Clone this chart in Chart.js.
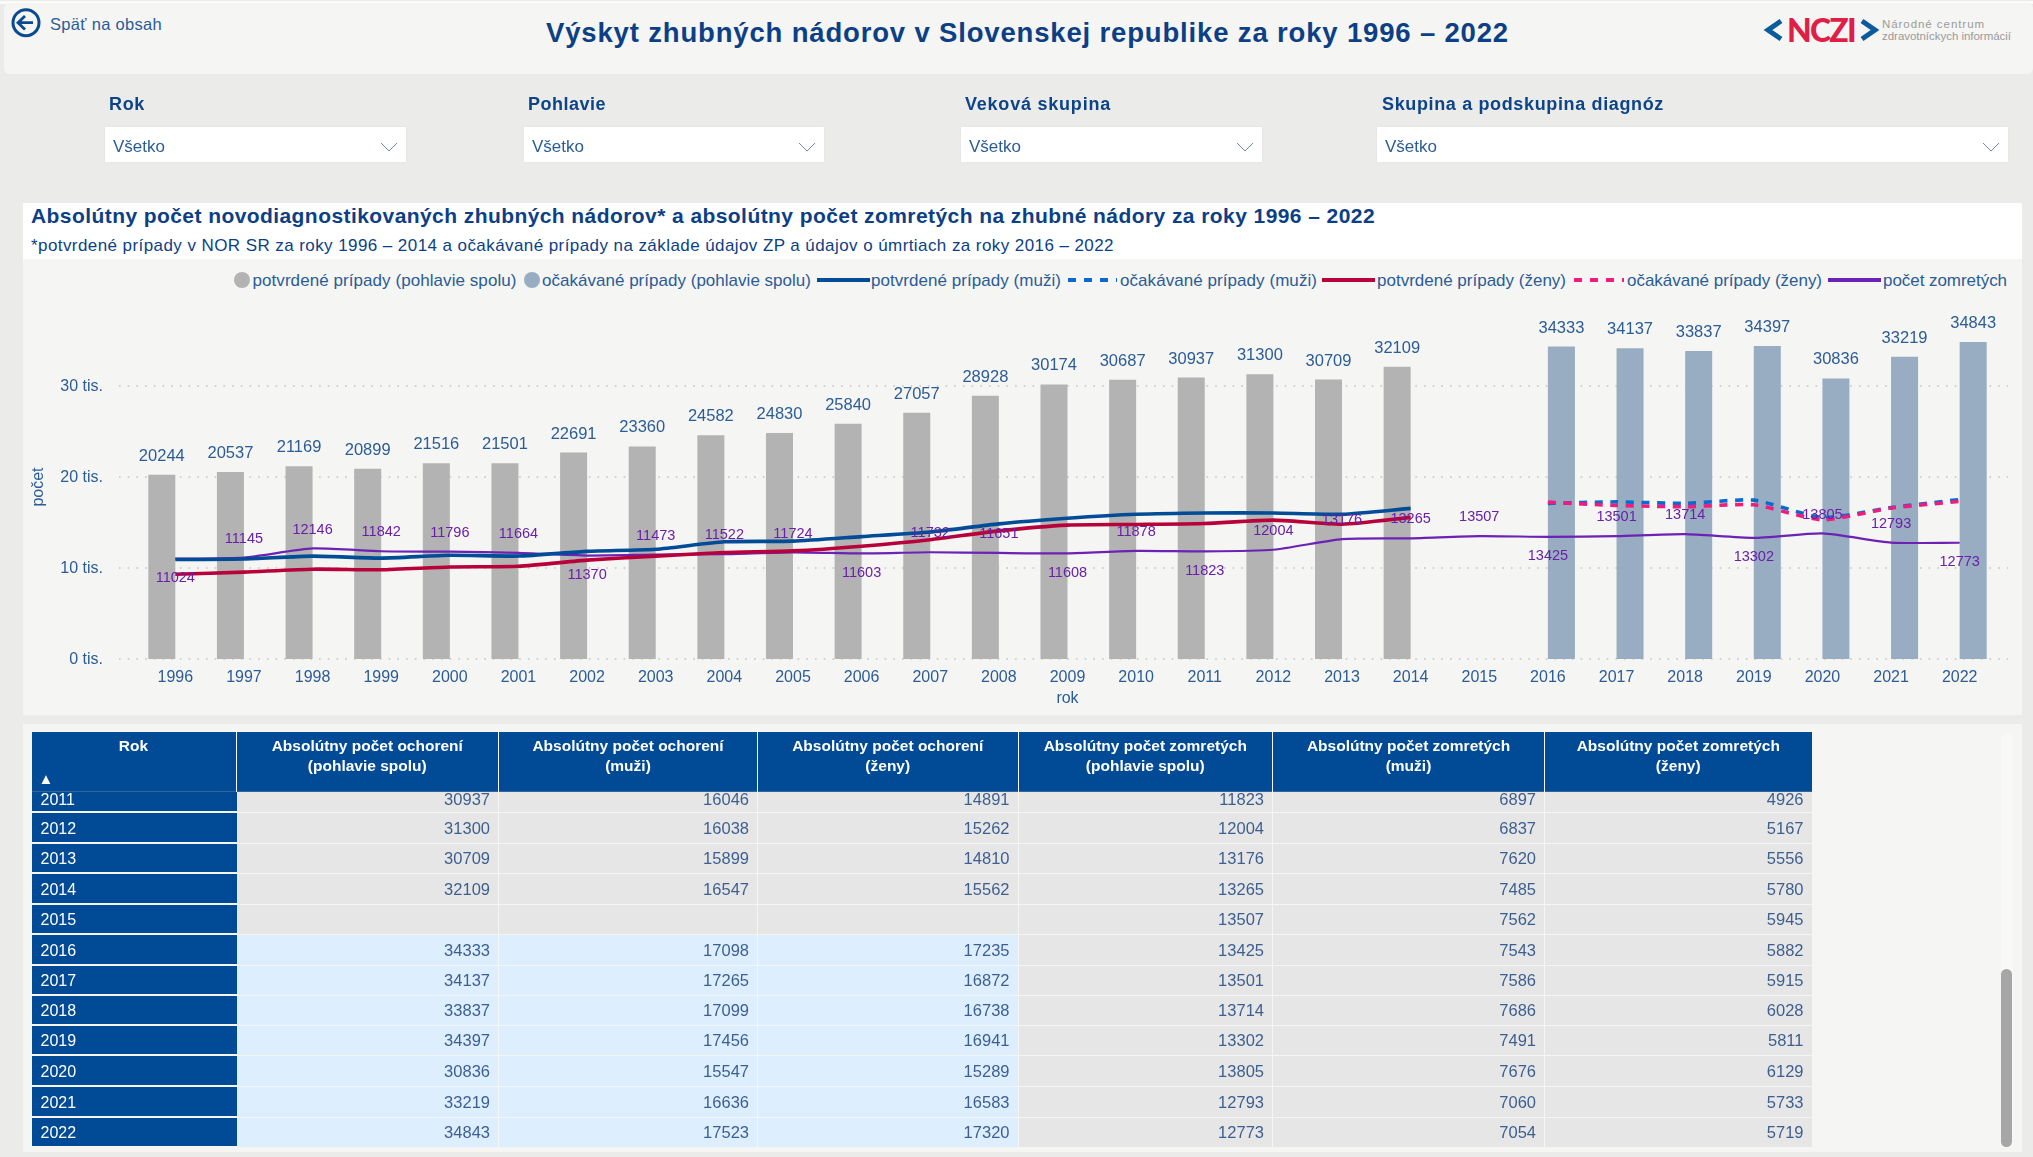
<!DOCTYPE html>
<html lang="sk">
<head>
<meta charset="utf-8">
<title>Výskyt zhubných nádorov</title>
<script src="https://cdn.jsdelivr.net/npm/chart.js@4/dist/chart.umd.min.js"></script>
<style>
html,body{margin:0;padding:0;background:#ebebe9;width:2033px;height:1157px;overflow:hidden;font-family:"Liberation Sans",Arial,sans-serif;}
#root{position:absolute;left:0;top:0;width:2033px;height:1157px;overflow:hidden;filter:blur(0.55px);}
.a{position:absolute;white-space:nowrap;}
.box{position:absolute;}
.lbl{color:#0d4488;font-weight:bold;font-size:18px;line-height:20px;}
.dd{position:absolute;background:#fff;top:127px;height:35px;box-shadow:0 0 2px #e0e0e0;}
.dd span{position:absolute;left:8px;top:9.5px;font-size:17px;line-height:20px;color:#2b5c96;}
.dd svg{position:absolute;right:8px;top:15px;}
.lg{color:#2b5c96;font-size:17px;line-height:20px;top:270.5px;}
.cell{position:absolute;overflow:hidden;box-sizing:border-box;}
.hdr{background:#004a96;color:#fff;font-weight:bold;font-size:15.5px;line-height:20.5px;text-align:center;}
</style>
</head>
<body>
<div id="root">
  <div class="box" style="left:0;top:1px;width:2033px;height:3px;background:#fbfbfa"></div>
  <div class="box" style="left:4px;top:3px;width:2029px;height:71px;background:#f5f5f3;border-radius:6px"></div>
  <svg class="box" style="left:9px;top:6px" width="34" height="34" viewBox="0 0 34 34">
    <circle cx="17" cy="16.7" r="13" fill="none" stroke="#0b4a90" stroke-width="3"/>
    <path d="M24 16.7H10M16 10l-7 6.7 7 6.7" fill="none" stroke="#0b4a90" stroke-width="2.8"/>
  </svg>
  <div class="a" data-w="112" style="left:50px;top:13.5px;font-size:16.5px;line-height:20px;color:#2b5c96">Späť na obsah</div>
  <div class="a" data-w="963" style="left:546px;top:18px;font-size:27.5px;line-height:30px;font-weight:bold;color:#0c3f85">Výskyt zhubných nádorov v Slovenskej republike za roky 1996 – 2022</div>

  <svg class="box" style="left:1760px;top:12px" width="124" height="36" viewBox="0 0 124 36">
    <path d="M21 9L8 18l13 9M102 9l13 9-13 9" fill="none" stroke="#0a5b9c" stroke-width="5"/>
  </svg>
  <div class="a" data-w="68" style="left:1787px;top:11px;font-family:Lato,'Liberation Sans';font-weight:900;font-size:32px;line-height:38px;color:#df1f45">NCZI</div>
  <div class="a" data-w="103" style="left:1882px;top:17px;font-size:11.5px;line-height:14px;color:#9a9a9a">Národné centrum</div>
  <div class="a" data-w="129" style="left:1882px;top:29px;font-size:11.5px;line-height:14px;color:#9a9a9a">zdravotníckych informácií</div>

  <div class="a lbl" style="left:109px;top:93.5px" data-w="36">Rok</div>
  <div class="a lbl" style="left:528px;top:93.5px" data-w="78">Pohlavie</div>
  <div class="a lbl" style="left:965px;top:93.5px" data-w="146">Veková skupina</div>
  <div class="a lbl" style="left:1382px;top:93.5px" data-w="282">Skupina a podskupina diagnóz</div>
  <div id="dds"></div>

  <div class="box" style="left:23px;top:259px;width:1999px;height:456px;background:#f5f5f3"></div>
  <div class="box" style="left:23px;top:203px;width:1999px;height:56px;background:#fff"></div>
  <div class="a" data-w="1344" style="left:31px;top:204px;font-size:21px;line-height:24px;font-weight:bold;color:#0c3f85">Absolútny počet novodiagnostikovaných zhubných nádorov* a absolútny počet zomretých na zhubné nádory za roky 1996 – 2022</div>
  <div class="a" data-w="1083" style="left:31px;top:235.5px;font-size:17px;line-height:20px;color:#0c3f85">*potvrdené prípady v NOR SR za roky 1996 – 2014 a očakávané prípady na základe údajov ZP a údajov o úmrtiach za roky 2016 – 2022</div>
  <div id="legend"></div>

  <canvas id="c" width="1999" height="456" style="position:absolute;left:23px;top:259px;width:1999px;height:456px"></canvas>

  <div class="box" style="left:23px;top:724px;width:1999px;height:428px;background:#f5f5f3"></div>
  <div id="table"></div>
  <div class="box" style="left:2001px;top:732px;width:12px;height:415px;background:#f8f8f7;border-radius:6px"></div>
  <div class="box" style="left:2001px;top:969px;width:11px;height:178px;background:#a6a6a6;border-radius:6px"></div>
</div>

<script>
// ---------- data ----------
const years = [1996,1997,1998,1999,2000,2001,2002,2003,2004,2005,2006,2007,2008,2009,2010,2011,2012,2013,2014,2015,2016,2017,2018,2019,2020,2021,2022];
const confirmedTotal = [20244,20537,21169,20899,21516,21501,22691,23360,24582,24830,25840,27057,28928,30174,30687,30937,31300,30709,32109,null,null,null,null,null,null,null,null];
const expectedTotal = [null,null,null,null,null,null,null,null,null,null,null,null,null,null,null,null,null,null,null,null,34333,34137,33837,34397,30836,33219,34843];
const confirmedMen = [10930,10990,11300,11090,11400,11310,11830,12060,12880,12950,13450,13950,14850,15460,15900,16046,16038,15899,16547,null,null,null,null,null,null,null,null];
const confirmedWomen = [9314,9547,9869,9809,10116,10191,10861,11300,11702,11880,12390,13107,14078,14714,14787,14891,15262,14810,15562,null,null,null,null,null,null,null,null];
const expectedMen = [null,null,null,null,null,null,null,null,null,null,null,null,null,null,null,null,null,null,null,null,17098,17265,17099,17456,15547,16636,17523];
const expectedWomen = [null,null,null,null,null,null,null,null,null,null,null,null,null,null,null,null,null,null,null,null,17235,16872,16738,16941,15289,16583,17320];
const deaths = [11024,11145,12146,11842,11796,11664,11370,11473,11522,11724,11603,11732,11651,11608,11878,11823,12004,13176,13265,13507,13425,13501,13714,13302,13805,12793,12773];
const deathLabelsBelow = [1996,2002,2006,2009,2011,2016,2019,2022];
const tableYears = [2011,2012,2013,2014,2015,2016,2017,2018,2019,2020,2021,2022];
const deathsMen = [6897,6837,7620,7485,7562,7543,7586,7686,7491,7676,7060,7054];
const deathsWomen = [4926,5167,5556,5780,5945,5882,5915,6028,5811,6129,5733,5719];
const tableHeaders = ["Rok","Absolútny počet ochorení\n(pohlavie spolu)","Absolútny počet ochorení\n(muži)","Absolútny počet ochorení\n(ženy)","Absolútny počet zomretých\n(pohlavie spolu)","Absolútny počet zomretých\n(muži)","Absolútny počet zomretých\n(ženy)"];
const filterValue = "Všetko";
const seriesNames = ["potvrdené prípady (pohlavie spolu)","očakávané prípady (pohlavie spolu)","potvrdené prípady (muži)","očakávané prípady (muži)","potvrdené prípady (ženy)","očakávané prípady (ženy)","počet zomretých"];

// ---------- colours ----------
const cGrey="#b3b3b3", cSteel="#98adc1", cNavy="#004c97", cBlue="#0a6ad0", cRed="#b8003a", cPink="#f01c7e", cPurple="#6c22b4";
const cText="#2b5c96", cDeathText="#6a1fa8";

// ---------- filters ----------
const ddHost=document.getElementById('dds');
[[105,301],[524,300],[961,301],[1377,631]].forEach(([l,w])=>{
  const d=document.createElement('div');d.className='dd';d.style.left=l+'px';d.style.width=w+'px';
  d.innerHTML='<span>'+filterValue+'</span><svg width="18" height="10" viewBox="0 0 18 10"><path d="M1 1l8 8 8-8" fill="none" stroke="#6d8bad" stroke-width="1"/></svg>';
  ddHost.appendChild(d);
});

// ---------- legend (same names as the datasets) ----------
const lgHost=document.getElementById('legend');
const lgLayout=[
 {k:'dot',c:cGrey,x:234,tx:252.5,w:264},
 {k:'dot',c:cSteel,x:523.5,tx:542,w:269},
 {k:'line',c:cNavy,x:816.5,x2:870,tx:871,w:190},
 {k:'dash',c:cBlue,x:1068,x2:1117,tx:1120,w:197},
 {k:'line',c:cRed,x:1322,x2:1375,tx:1377,w:189},
 {k:'dash',c:cPink,x:1574,x2:1624,tx:1627,w:195},
 {k:'line',c:cPurple,x:1827.5,x2:1881,tx:1883,w:124}
];
lgLayout.forEach((g,i)=>{
  const s=document.createElement('div');s.className='box';
  if(g.k==='dot'){s.style.cssText=`left:${g.x}px;top:272px;width:16px;height:16px;border-radius:50%;background:${g.c}`;}
  else if(g.k==='line'){s.style.cssText=`left:${g.x}px;top:278px;width:${g.x2-g.x}px;height:4px;background:${g.c}`;}
  else{s.style.cssText=`left:${g.x}px;top:278px;width:${g.x2-g.x}px;height:4px;background:repeating-linear-gradient(90deg,${g.c} 0 8px,transparent 8px 16px)`;}
  lgHost.appendChild(s);
  const t=document.createElement('div');t.className='a lg';t.style.left=g.tx+'px';t.dataset.w=g.w;t.textContent=seriesNames[i];
  lgHost.appendChild(t);
});

// ---------- table ----------
const cols=[31.5,236.5,499,758,1018.5,1273,1545,1811.5];
const rowEdges=[791.5,813,844,874,905,935,966,996,1026,1056,1087,1118,1148];
const tb=document.getElementById('table');
function cell(l,t,w,h,css,html,cls){
  const d=document.createElement('div');d.className='cell '+(cls||'');
  d.style.cssText=`left:${l}px;top:${t}px;width:${w}px;height:${h}px;${css||''}`;
  d.innerHTML=html;tb.appendChild(d);return d;
}
tableHeaders.forEach((h,i)=>{
  cell(cols[i],731.5,cols[i+1]-cols[i]-(i<6?1:0),60,'padding-top:4px;border-bottom:1px solid #33649c',h.replace('\n','<br>'),'hdr');
});
cell(cols[0]+7,772,18,14,'color:#fff;font-size:15px;line-height:14px;','▲');
tableYears.forEach((y,r)=>{
  const i=years.indexOf(y);
  const top=rowEdges[r], h=rowEdges[r+1]-top;
  const rowVals=[confirmedTotal[i]??expectedTotal[i],confirmedMen[i]??expectedMen[i],confirmedWomen[i]??expectedWomen[i],deaths[i],deathsMen[r],deathsWomen[r]];
  const cen=r===0?800:top+h/2;
  const ltop=cen-top-10;
  cell(cols[0],top,cols[1]-cols[0],h-2,`background:#004a96;color:#fff;font-size:16px;padding-left:9px;`,`<div style="position:relative;top:${ltop+0.4}px;line-height:20px">${y}</div>`);
  rowVals.forEach((v,c)=>{
    const bg=(c<3&&y>=2016)?'#ddeeff':'#e6e6e6';
    cell(cols[c+1],top,cols[c+2]-cols[c+1]-(c<5?1:0),h-1.5,`background:${bg};color:#3d5f8f;font-size:16.5px;text-align:right;padding-right:8px;`,`<div style="position:relative;top:${ltop-0.8}px;line-height:20px">${v===null?'':v}</div>`);
  });
});

// ---------- fit text widths to the reference ----------
document.querySelectorAll('[data-w]').forEach(el=>{
  el.style.letterSpacing='0px';
  const w=el.getBoundingClientRect().width, n=el.textContent.length;
  el.style.letterSpacing=((+el.dataset.w-w)/n)+'px';
});

// ---------- chart ----------
const plotPlugin={
  id:'plotExtras',
  beforeDatasetsDraw(ch){
    const {ctx,chartArea:a,scales:{y}}=ch;
    ctx.save();ctx.strokeStyle='#c4c4c4';ctx.lineWidth=1.6;ctx.setLineDash([1.6,7.1]);
    y.ticks.forEach(t=>{
      const py=y.getPixelForValue(t.value);
      ctx.beginPath();ctx.moveTo(a.left-22,py);ctx.lineTo(a.right+14,py);ctx.stroke();
    });
    ctx.restore();
  },
  afterDatasetsDraw(ch){
    const {ctx}=ch;
    ctx.save();ctx.textAlign='center';ctx.textBaseline='middle';
    [0,1].forEach(di=>{
      ctx.font='16.5px "Liberation Sans"';ctx.fillStyle=cText;
      ch.getDatasetMeta(di).data.forEach((el,i)=>{
        const v=ch.data.datasets[di].data[i];
        if(v==null)return;
        ctx.fillText(String(v),el.x,el.y-18.5);
      });
    });
    const di=ch.data.datasets.findIndex(d=>d.label===seriesNames[6]);
    ctx.font='14.5px "Liberation Sans"';ctx.fillStyle=cDeathText;
    ch.getDatasetMeta(di).data.forEach((el,i)=>{
      const below=deathLabelsBelow.includes(years[i]);
      ctx.fillText(String(deaths[i]),el.x,el.y+(below?19.5:-18.8));
    });
    ctx.restore();
  }
};
function lineDs(label,data,color,width,order,dash){
  return {type:'line',label,data,borderColor:color,backgroundColor:color,borderWidth:width,pointRadius:0,pointHoverRadius:0,tension:0.2,order,borderDash:dash||[],borderCapStyle:'butt',spanGaps:false};
}
new Chart(document.getElementById('c'),{
  type:'bar',
  data:{labels:years,datasets:[
    {label:seriesNames[0],data:confirmedTotal,backgroundColor:cGrey,categoryPercentage:0.787,barPercentage:1,order:10},
    {label:seriesNames[1],data:expectedTotal,backgroundColor:cSteel,categoryPercentage:0.787,barPercentage:1,order:10},
    lineDs(seriesNames[6],deaths,cPurple,2.2,6),
    lineDs(seriesNames[2],confirmedMen,cNavy,3.6,5),
    lineDs(seriesNames[3],expectedMen,cBlue,3.6,4,[8,7.6]),
    lineDs(seriesNames[4],confirmedWomen,cRed,3.6,3),
    lineDs(seriesNames[5],expectedWomen,cPink,3.6,2,[8,7.6])
  ]},
  options:{
    responsive:false,animation:false,
    layout:{padding:{left:0,right:28,top:56,bottom:7}},
    plugins:{legend:{display:false},tooltip:{enabled:false},title:{display:false}},
    scales:{
      x:{offset:true,grid:{display:false,drawTicks:false},border:{display:false},
        ticks:{autoSkip:false,maxRotation:0,minRotation:0,padding:9,color:cText,font:{size:16,family:'"Liberation Sans"'}},
        title:{display:true,text:'rok',color:cText,font:{size:16,family:'"Liberation Sans"'},padding:{top:2,bottom:0}},
        afterFit(s){s.height=49;}},
      y:{min:0,max:37800,grid:{display:false,drawTicks:false},border:{display:false},
        ticks:{padding:38,labelOffset:1,color:cText,font:{size:16,family:'"Liberation Sans"'},callback:v=>(v/1000)+' tis.'},
        afterBuildTicks(s){s.ticks=[0,10000,20000,30000].map(value=>({value}));},
        title:{display:true,text:'počet',color:cText,font:{size:16,family:'"Liberation Sans"'},padding:{top:6,bottom:0}},
        afterFit(s){s.width=118;}}
    }
  },
  plugins:[plotPlugin]
});
</script>
</body>
</html>
